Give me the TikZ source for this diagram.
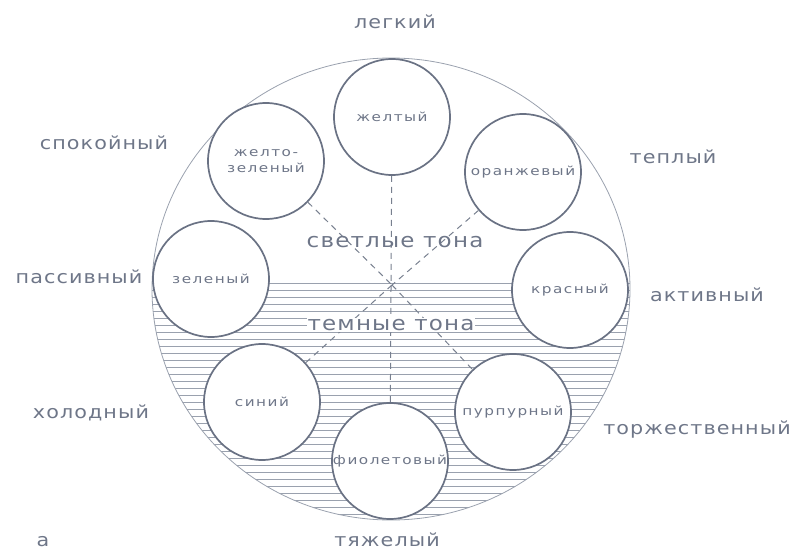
\documentclass[tikz,border=0pt]{standalone}
\usepackage{fontspec}
\setmainfont{DejaVu Sans}
\newfontfamily\labfont[LetterSpace=6,FakeStretch=1.15]{DejaVu Sans}
\newfontfamily\inlabfont[LetterSpace=12,FakeStretch=1.22]{DejaVu Sans}
\definecolor{ink}{HTML}{6E7688}
\definecolor{circ}{HTML}{6A7284}
\definecolor{thin}{HTML}{9AA1AE}
\definecolor{hatchc}{HTML}{9AA1AE}
\definecolor{dashc}{HTML}{78808F}
\begin{document}
\begin{tikzpicture}[x=1pt,y=-1pt,
  cnode/.style={circle, draw=circ, line width=1.7pt, fill=white, minimum size=116pt, inner sep=0pt,
    font=\inlabfont\fontsize{12.5}{14}\selectfont, text=ink, align=center},
  outl/.style={font=\labfont\fontsize{18}{20}\selectfont, text=ink, inner sep=0pt},
  tone/.style={font=\labfont\fontsize{20}{22}\selectfont, text=ink, inner sep=1pt},
  dl/.style={draw=dashc, dash pattern=on 6pt off 5pt, line width=1pt},
  hatch/.style={draw=hatchc, line width=0.5pt}]
\useasboundingbox (0,0) rectangle (795,551);
\clip (0,0) rectangle (795,551);
% hatching of the lower (dark) part
\begin{scope}
  \clip (391,289) ellipse [x radius=239pt, y radius=231pt];
  \clip (100,282) rectangle (700,540);
  \foreach \yy in {283,290,...,530} \draw[hatch] (140,\yy) -- (650,\yy);
\end{scope}
% big circle
\draw[draw=thin, line width=0.8pt] (391,289) ellipse [x radius=239pt, y radius=231pt];
% colour circles
\node[cnode] (zhelt) at (392,117) {желтый};
\node[cnode] (zhzel) at (266,161) {желто-\\[2pt]зеленый};
\node[cnode] (oranzh) at (523,172) {оранжевый};
\node[cnode] (zelen) at (211,279) {зеленый};
\node[cnode] (krasn) at (570,290) {красный};
\node[cnode] (sin) at (262,402) {синий};
\node[cnode] (fiol) at (390,461) {фиолетовый};
\node[cnode] (purp) at (513,412) {пурпурный};
% dashed connectors
\coordinate (P) at (392,285);
\draw[dl] (zhelt) -- (fiol);
\draw[dl] (zhzel) -- (P);
\draw[dl] (oranzh) -- (P);
\draw[dl] (P) -- (sin);
\draw[dl] (P) -- (purp);
% tone labels
\node[tone] (light) at (395,242) {светлые тона};
\node[tone, fill=white] (dark) at (391,325) {темные тона};
% outer labels
\node[outl] (l1) at (395,22) {легкий};
\node[outl] (l2) at (104,143) {спокойный};
\node[outl] (l3) at (673,157) {теплый};
\node[outl] (l4) at (79,277) {пассивный};
\node[outl] (l5) at (707,295) {активный};
\node[outl] (l6) at (91,413) {холодный};
\node[outl] (l7) at (697,430) {торжественный};
\node[outl] (l8) at (387,540) {тяжелый};
\node[outl] (l9) at (43,542) {а};
\end{tikzpicture}
\end{document}
